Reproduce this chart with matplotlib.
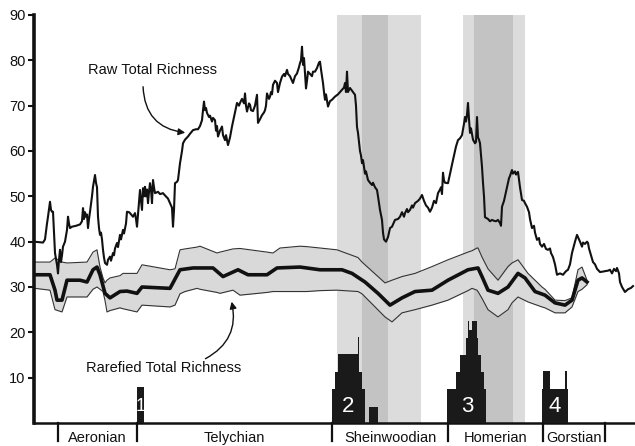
import matplotlib.pyplot as plt
import numpy as np

plt.rcParams['font.family'] = ['Liberation Sans', 'DejaVu Sans']

# raw total richness: (position, richness) pairs
raw_pts = [
    (34, 40), (43, 39.8), (45, 40.5), (47, 44), (48, 45.5), (50, 48.8), (51, 47), (52, 46.6),
    (53, 46.6), (55, 37.5), (57, 34.9), (58, 33), (59, 36), (60, 38.2), (61, 35.5), (62, 37),
    (63, 38.9), (65, 40), (67, 42.6), (68, 45.5), (69, 44), (70, 43), (72, 43.3), (76, 43.5),
    (80, 43.8), (82, 44.5), (83, 47.4), (84, 45), (85, 46.5), (86, 45.5), (87, 46), (88, 43),
    (89, 45), (90, 46.6), (92, 50), (93, 52.1), (95, 54.7), (96, 53), (97, 52), (98, 45.5),
    (99, 43), (100, 41.5), (101, 42), (102, 40.5), (103, 38.2), (104, 36.5), (105, 35.3),
    (107, 34.9), (108, 36), (110, 36.7), (111, 35.8), (113, 37.5), (114, 37), (115, 38.5),
    (117, 39.7), (118, 38.8), (120, 41.5), (121, 40.5), (123, 42.6), (124, 41.8), (126, 44),
    (127, 46.6), (129, 46.5), (130, 46.3), (133, 45.5), (135, 46.3), (136, 45), (137, 43.3),
    (138, 46), (140, 51.4), (141, 49), (142, 47), (143, 51.8), (144, 50), (145, 52.1),
    (146, 50), (147, 51.5), (148, 48.5), (149, 51), (150, 52.9), (151, 51.5), (152, 48.5),
    (153, 53.6), (154, 52), (155, 50.7), (158, 51), (160, 50.5), (163, 50.7), (165, 50.2),
    (168, 49.5), (170, 48.5), (172, 47.5), (173, 43.3), (174, 47), (175, 52.9), (177, 53.2),
    (178, 53.6), (180, 57.3), (182, 60), (183, 61.7), (185, 62.5), (188, 63.2), (190, 63.8),
    (193, 64.6), (196, 64.8), (198, 64.8), (200, 65.5), (202, 66.8), (203, 69), (204, 70.9),
    (205, 69), (206, 69.5), (207, 68.4), (209, 67.5), (210, 67.8), (212, 66.5), (213, 67.3),
    (215, 66.8), (216, 64.5), (217, 65.5), (218, 63.2), (220, 64.5), (222, 65.4), (223, 63.5),
    (225, 62.4), (226, 63.5), (228, 61.3), (230, 63), (232, 65.4), (234, 67.5), (236, 69.5),
    (237, 70.6), (239, 70), (240, 70.6), (242, 71.5), (244, 70.5), (245, 72.7), (246, 70),
    (247, 68.7), (249, 70.5), (250, 70.2), (251, 69), (253, 68.8), (255, 70), (257, 72.4),
    (258, 66.2), (260, 67), (262, 67.9), (264, 68.5), (265, 69), (266, 70), (267, 72.7),
    (269, 71.5), (270, 72), (271, 73), (272, 72.5), (273, 74.6), (275, 75.5), (277, 75),
    (278, 73), (280, 75), (282, 76.4), (284, 77), (285, 76.5), (287, 77.9), (288, 77),
    (290, 76.5), (292, 75.5), (293, 75), (295, 76.5), (297, 77.1), (299, 78.5), (300, 79.4),
    (301, 80), (302, 83), (303, 79), (304, 80.5), (305, 77), (306, 73.8), (307, 75.5),
    (308, 77.5), (310, 77), (312, 76.5), (313, 77.5), (315, 77.5), (317, 78.3), (319, 79.5),
    (320, 79.7), (321, 78), (323, 75), (324, 73), (325, 71.3), (326, 72.5), (328, 69.8),
    (330, 71), (332, 71.3), (335, 72), (338, 72.5), (340, 73), (342, 73.5), (344, 74),
    (345, 75), (346, 73), (347, 77.5), (348, 73), (350, 73.9), (353, 73), (355, 72.4),
    (356, 70), (357, 65.3), (358, 64), (359, 62), (360, 60), (361, 59), (362, 57.3), (363, 58),
    (364, 56.5), (365, 55), (366, 55.5), (368, 53.6), (370, 53), (372, 52.5), (373, 53),
    (375, 52), (377, 51.4), (378, 50), (380, 47), (382, 44.8), (383, 42), (384, 40.5),
    (386, 40), (388, 41), (390, 43), (392, 43.3), (395, 44.8), (398, 45), (400, 45.5),
    (402, 46.5), (404, 45.5), (405, 46.3), (407, 47.2), (408, 46.5), (410, 47), (412, 48),
    (413, 47.5), (415, 48.5), (418, 49), (420, 49.5), (422, 50.3), (424, 49), (426, 48),
    (428, 47.5), (430, 46.6), (432, 47.5), (434, 49), (436, 48.5), (438, 50.7), (440, 51.5),
    (441, 52), (442, 50.5), (443, 55.2), (444, 53.5), (445, 53), (448, 52.9), (450, 55),
    (452, 57), (454, 59), (456, 61), (458, 62.4), (460, 62.8), (462, 63.5), (464, 66),
    (465, 67.5), (466, 66.5), (467, 68), (468, 70.6), (469, 67), (470, 64), (471, 65),
    (473, 62.5), (475, 61.7), (476, 62), (477, 67.5), (478, 63), (479, 62.5), (480, 61.7),
    (481, 59), (482, 56.5), (483, 53), (484, 50), (485, 45.4), (488, 45), (490, 44.5),
    (492, 44.8), (494, 44.6), (496, 44.5), (498, 44.8), (500, 44.1), (501, 43.5), (502, 47.7),
    (504, 49), (505, 50), (507, 52), (509, 54), (510, 54.5), (512, 55.8), (513, 55),
    (515, 55.5), (516, 54.8), (518, 55.4), (520, 52), (522, 49.2), (524, 49), (525, 48.5),
    (527, 47.7), (529, 46.5), (530, 45), (531, 44), (532, 43), (534, 43.5), (535, 42),
    (537, 40.4), (539, 40.8), (540, 39.5), (542, 38.9), (544, 39.5), (546, 38.4), (548, 38.2),
    (550, 38.5), (551, 37.5), (553, 36.6), (555, 35), (557, 32.7), (560, 33), (563, 32.7),
    (566, 33.5), (568, 33.8), (570, 35), (572, 37.5), (575, 40), (577, 41.5), (579, 40.5),
    (580, 40), (582, 38.9), (583, 39.8), (585, 39.5), (587, 40), (588, 39.7), (589, 38.5),
    (591, 37), (593, 35.5), (595, 35), (597, 34), (600, 33.3), (603, 33.4), (605, 33.5),
    (608, 33.6), (610, 33.8), (612, 33), (614, 34), (616, 33.5), (617, 34.2), (619, 33),
    (620, 31.1), (622, 30), (625, 28.9), (628, 29.5), (631, 29.8), (633, 30.2),
]
raw_x = [p[0] for p in raw_pts]
raw_total = [p[1] for p in raw_pts]

rare_x = [35, 50, 55, 57, 62, 67, 80, 87, 93, 97, 100, 105, 110, 120, 127, 137, 142, 170, 180,
          193, 213, 223, 238, 248, 267, 277, 300, 320, 342, 352, 365, 378, 390, 402, 415, 432,
          448, 468, 478, 482, 488, 498, 508, 518, 525, 535, 545, 555, 565, 572, 578, 582, 587]
rare_mean = [32.7, 32.7, 29.3, 27.1, 27.1, 31.5, 31.5, 31.1, 33.8, 34.4, 32.7, 28.6, 27.6, 29,
             29.1, 28.6, 30, 29.7, 33.8, 34.2, 34.2, 32.3, 33.8, 32.7, 32.7, 34.2, 34.4, 33.8,
             33.8, 33, 31.1, 28.6, 26, 27.6, 29, 29.3, 31.5, 33.8, 34.2, 32.3, 29.3, 28.6, 30,
             33, 32, 29, 28.2, 26.5, 26, 27.1, 31.5, 32, 31.1]

env_x = [35, 50, 55, 62, 67, 87, 93, 97, 100, 103, 105, 107, 110, 120, 123, 137, 142, 170, 175,
         180, 185, 197, 200, 217, 220, 233, 240, 267, 273, 280, 300, 307, 320, 337, 358, 362,
         385, 392, 402, 415, 432, 448, 468, 472, 477, 478, 482, 488, 498, 508, 512, 518, 528,
         542, 545, 555, 565, 572, 578, 582, 587]
env_upper = [35.5, 35.5, 36.4, 35.5, 35.3, 35.5, 37.7, 38.2, 34.4, 32, 30.9, 31.5, 32, 32.5,
             33, 33, 34.9, 33.8, 34, 38.2, 38.4, 38.8, 39, 37.5, 37.7, 38.4, 38.5, 37.7, 37.5,
             38.6, 39, 38.9, 38.6, 38.2, 36.5, 35.5, 30.9, 31.5, 32.3, 33, 34.5, 36, 37.7, 38,
             38.6, 38.6, 36.6, 34, 31.5, 34.5, 35.3, 36, 33, 30, 29.5, 27.1, 27, 27.6, 33.8,
             34.4, 31.5]
env_lower = [29.7, 29.3, 25, 24.5, 27.8, 27.8, 29.5, 30, 29.5, 29, 27, 24.5, 24.8, 25.4, 25.2,
             24.5, 26, 25.6, 26, 28.5, 29, 29.7, 29.5, 28.8, 28.6, 29.3, 28.2, 28.8, 29, 29,
             29, 29, 29.2, 29.3, 29, 28.5, 23.4, 22.3, 24.3, 25, 26, 27.1, 29.2, 29.7, 29.3, 29,
             27.5, 25, 23.4, 25, 26.5, 27.8, 26.7, 25.6, 25.4, 24.3, 24.3, 25.6, 29, 29.5, 30.5]

# extinction-event histograms (step bars)
bar_left = [137.3,
            332, 335, 338, 357.5, 359, 362, 369.3,
            447.3, 456, 460, 466, 467.5, 469, 471.5, 476.5, 478, 481, 484,
            542, 543.3, 550, 565, 567.3]
bar_right = [144,
             335, 338, 357.5, 359, 362, 364.5, 377.7,
             456, 460, 466, 467.5, 469, 471.5, 476.5, 478, 481, 484, 485.7,
             543.3, 550, 565, 567.3, 568.3]
bar_height = [7.9,
              7.4, 11.3, 15.2, 19, 11.3, 7.4, 3.5,
              7.4, 11.3, 15, 18.7, 22.5, 20.5, 22.5, 18.7, 15, 11.3, 7.4,
              7.4, 11.5, 7.4, 11.5, 7.4]
event_labels = ['1', '2', '3', '4']
event_label_x = [140.7, 348, 467, 555]

stage_bounds = [58, 137, 332, 448, 543, 605]
stage_names = ['Aeronian', 'Telychian', 'Sheinwoodian', 'Homerian', 'Gorstian']

light_bands = [(337, 421), (463, 525)]
dark_bands = [(362, 388), (474, 513)]

fig = plt.figure(figsize=(6.35, 4.46), dpi=100)
ax = fig.add_axes([34 / 635, 23 / 446, 601 / 635, 408 / 446])
ax.set_xlim(34, 635)
ax.set_ylim(0, 90)

for a, b in light_bands:
    ax.axvspan(a, b, color='#dcdcdc', lw=0, zorder=0)
for a, b in dark_bands:
    ax.axvspan(a, b, color='#c3c3c3', lw=0, zorder=0.5)

ax.fill_between(env_x, env_lower, env_upper, color='#d9d9d9', lw=0, zorder=1)
ax.plot(env_x, env_upper, color='#333333', lw=0.8, zorder=2)
ax.plot(env_x, env_lower, color='#333333', lw=0.8, zorder=2)
ax.plot(rare_x, rare_mean, color='#111111', lw=2.6, zorder=3)
ax.plot(raw_x, raw_total, color='#111111', lw=1.5, zorder=3)

widths = np.array(bar_right) - np.array(bar_left)
ax.bar(bar_left, bar_height, width=widths, align='edge', color='#1a1a1a', lw=0, zorder=4)
for lab, xx in zip(event_labels, event_label_x):
    fs = 13 if lab == '1' else 16
    ax.text(xx, 3.6, lab, color='white', fontsize=fs, ha='center', va='center', zorder=5)

# stage boundaries and names below the axis
for xb in stage_bounds:
    ax.plot([xb, xb], [0, -4], color='#111111', lw=1.6, clip_on=False, zorder=5)
for i, name in enumerate(stage_names):
    xc = (stage_bounds[i] + stage_bounds[i + 1]) / 2
    ax.text(xc, -3.2, name, fontsize=10.5, ha='center', va='center', color='#111111')

ax.annotate('', xy=(188, (423 - 133) / 4.533), xytext=(143, (423 - 84) / 4.533),
            arrowprops=dict(arrowstyle='-|>', color='#111111', lw=1.0,
                            mutation_scale=10, connectionstyle='arc3,rad=0.45'))
ax.text(152, (423 - 70) / 4.533, 'Raw Total Richness', fontsize=10.5, ha='center',
        va='center', color='#111111')
ax.annotate('', xy=(231, (423 - 299) / 4.533), xytext=(203, (423 - 360) / 4.533),
            arrowprops=dict(arrowstyle='-|>', color='#111111', lw=1.0,
                            mutation_scale=10, connectionstyle='arc3,rad=0.4'))
ax.text(164, (423 - 368) / 4.533, 'Rarefied Total Richness', fontsize=10.5, ha='center',
        va='center', color='#111111')

ax.set_yticks([10, 20, 30, 40, 50, 60, 70, 80, 90])
ax.set_xticks([])
ax.tick_params(axis='y', direction='out', length=4, width=1.5, labelsize=10.5,
               colors='#111111', pad=2)
for s in ['top', 'right']:
    ax.spines[s].set_visible(False)
ax.spines['left'].set_linewidth(2.6)
ax.spines['bottom'].set_linewidth(1.8)
ax.spines['left'].set_color('#111111')
ax.spines['bottom'].set_color('#111111')

fig.savefig('out.png', dpi=100)
